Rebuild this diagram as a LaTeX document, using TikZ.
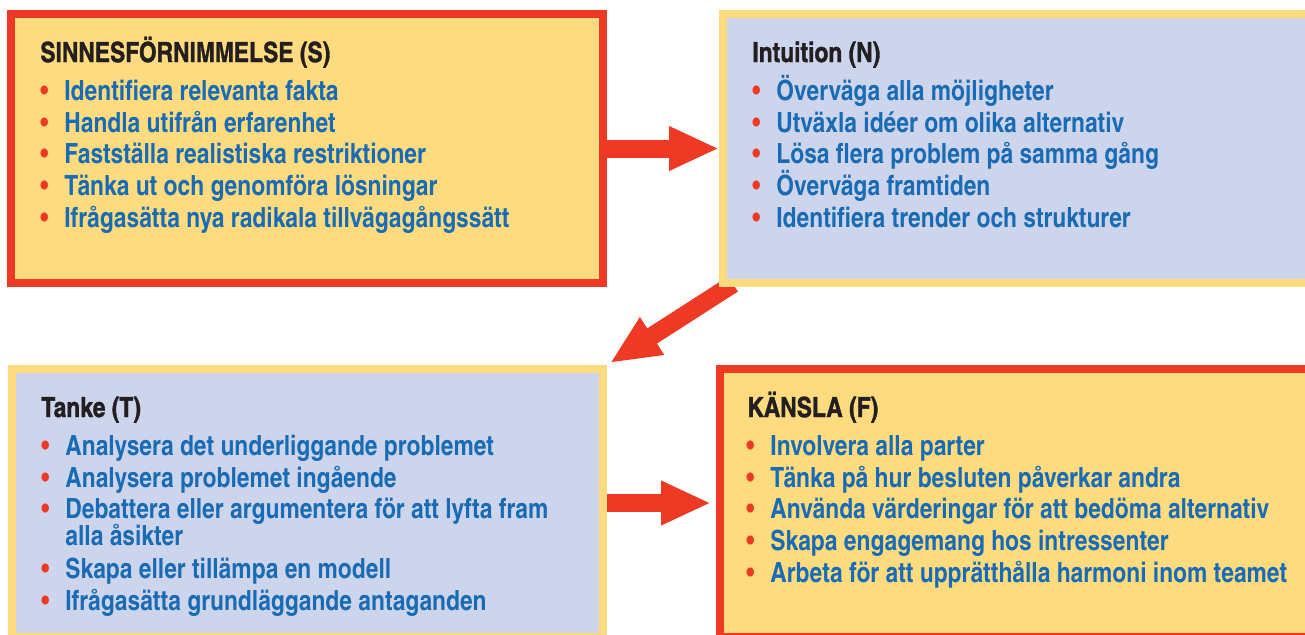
\documentclass[tikz,border=0pt]{standalone}
\usepackage{fontspec}
\setmainfont{texgyreheroscn-bold.otf}
\newfontfamily\headfont[FakeBold=1.2]{texgyreheroscn-bold.otf}
\usepackage{tikz}
\usetikzlibrary{arrows.meta,backgrounds}

\definecolor{boxyellow}{RGB}{253,219,126}
\definecolor{boxblue}{RGB}{205,213,236}
\definecolor{arrowred}{RGB}{238,58,36}
\definecolor{itemblue}{RGB}{24,107,180}
\definecolor{headblack}{RGB}{35,31,32}

\tikzset{
  quad/.style={rectangle, line width=4pt, inner sep=0pt},
  head/.style={anchor=base west, inner sep=0pt, text=headblack, font=\headfont\fontsize{13.9}{13.5}\selectfont},
  point/.style={anchor=base west, inner sep=0pt, text=itemblue, align=left, font=\fontsize{13.9}{13.5}\selectfont},
  bigarrow/.style={draw=arrowred, line width=9pt, -{Triangle[length=25pt,width=20.5pt]}}
}
\newcommand{\dotb}{\makebox[12pt][l]{\textcolor{arrowred}{\textbullet}}}

\begin{document}
\begin{tikzpicture}[x=0.5pt,y=-0.5pt]
\useasboundingbox (0,0) rectangle (1305,634);
\clip (0,0) rectangle (1305,634);

% the four boxes
\node[quad, draw=arrowred, fill=boxyellow, minimum width=296pt, minimum height=134.5pt] (S) at (307,148.5) {};
\node[quad, draw=boxyellow, fill=boxblue, minimum width=298.5pt, minimum height=134.5pt] (N) at (1021.5,148.5) {};
\node[quad, draw=boxyellow, fill=boxblue, minimum width=295.5pt, minimum height=134pt] (T) at (307.5,503) {};
\node[quad, draw=arrowred, fill=boxyellow, minimum width=300pt, minimum height=134pt] (F) at (1020,503) {};

% S
\node[head] (Sh) at ([shift={(33,52)}]S.north west) {SINNESFÖRNIMMELSE (S)};
\node[point] (S1) at ([shift={(33,90)}]S.north west) {\dotb Identifiera relevanta fakta};
\node[point] (S2) at ([shift={(33,122)}]S.north west) {\dotb Handla utifrån erfarenhet};
\node[point] (S3) at ([shift={(33,153)}]S.north west) {\dotb Fastställa realistiska restriktioner};
\node[point] (S4) at ([shift={(33,185)}]S.north west) {\dotb Tänka ut och genomföra lösningar};
\node[point] (S5) at ([shift={(33,217)}]S.north west) {\dotb Ifrågasätta nya radikala tillvägagångssätt};

% N
\node[head] (Nh) at ([shift={(33,52)}]N.north west) {Intuition (N)};
\node[point] (N1) at ([shift={(33,90)}]N.north west) {\dotb Överväga alla möjligheter};
\node[point] (N2) at ([shift={(33,122)}]N.north west) {\dotb Utväxla idéer om olika alternativ};
\node[point] (N3) at ([shift={(33,153)}]N.north west) {\dotb Lösa flera problem på samma gång};
\node[point] (N4) at ([shift={(33,185)}]N.north west) {\dotb Överväga framtiden};
\node[point] (N5) at ([shift={(33,217)}]N.north west) {\dotb Identifiera trender och strukturer};

% T
\node[head] (Th) at ([shift={(33,52)}]T.north west) {Tanke (T)};
\node[point] (T1) at ([shift={(33,90)}]T.north west) {\dotb Analysera det underliggande problemet};
\node[point] (T2) at ([shift={(33,122)}]T.north west) {\dotb Analysera problemet ingående};
\node[point] (T3) at ([shift={(33,153)}]T.north west) {\dotb Debattera eller argumentera för att lyfta fram};
\node[point] (T3b) at ([shift={(57,180)}]T.north west) {alla åsikter};
\node[point] (T4) at ([shift={(33,213)}]T.north west) {\dotb Skapa eller tillämpa en modell};
\node[point] (T5) at ([shift={(33,245)}]T.north west) {\dotb Ifrågasätta grundläggande antaganden};

% F
\node[head] (Fh) at ([shift={(31,52)}]F.north west) {KÄNSLA (F)};
\node[point] (F1) at ([shift={(30,90)}]F.north west) {\dotb Involvera alla parter};
\node[point] (F2) at ([shift={(30,122)}]F.north west) {\dotb Tänka på hur besluten påverkar andra};
\node[point] (F3) at ([shift={(30,153)}]F.north west) {\dotb Använda värderingar för att bedöma alternativ};
\node[point] (F4) at ([shift={(30,185)}]F.north west) {\dotb Skapa engagemang hos intressenter};
\node[point] (F5) at ([shift={(30,217)}]F.north west) {\dotb Arbeta för att upprätthålla harmoni inom teamet};

% arrows behind the boxes
\begin{scope}[on background layer]
\fill[white] (0,0) rectangle (1305,634);
\draw[bigarrow] (S.east) -- (N.west);
\draw[bigarrow] ([shift={(14,-3)}]N.south west) -- ([shift={(3,-2)}]T.north east);
\draw[bigarrow, shorten >=2.5pt] (T.east) -- (F.west);
\end{scope}
\end{tikzpicture}
\end{document}
